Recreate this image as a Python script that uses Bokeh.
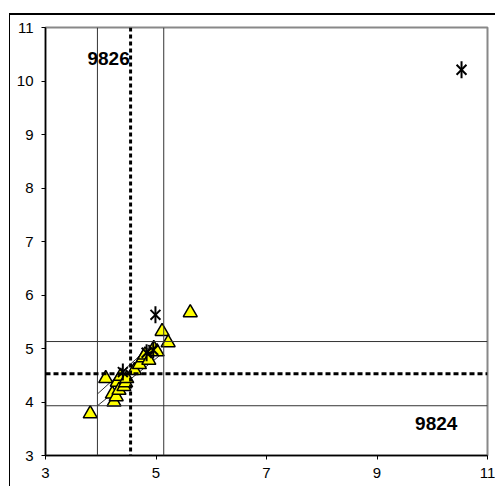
import math
from bokeh.plotting import figure
from bokeh.models import Span, FixedTicker, Label
from bokeh.embed import file_html
from bokeh.resources import INLINE

# data
tri_x = [3.81, 4.09, 4.21, 4.24, 4.28, 4.30, 4.33, 4.36, 4.42, 4.45, 4.47, 4.61, 4.70, 4.77, 4.80, 4.87, 4.96, 5.02, 5.11, 5.22, 5.62]
tri_y = [3.78, 4.44, 4.15, 4.00, 4.10, 4.37, 4.22, 4.48, 4.29, 4.36, 4.44, 4.59, 4.70, 4.83, 4.88, 4.78, 5.00, 4.94, 5.32, 5.11, 5.67]
star_x = [4.40, 4.83, 4.95, 4.99, 10.53]
star_y = [4.56, 4.92, 4.97, 5.63, 10.21]

x_ticks = [3, 5, 7, 9, 11]
y_ticks = [3, 4, 5, 6, 7, 8, 9, 10, 11]

x_limits = [3.94, 5.14]
y_limits = [3.93, 5.13]
x_mean = 4.54
y_mean = 4.53

band_lower_x = [3.94, 5.13]
band_lower_y = [3.93, 4.92]
band_upper_x = [3.94, 4.98]
band_upper_y = [4.15, 5.12]

label_a = "9826"
label_a_pos = (3.76, 10.29)
label_b = "9824"
label_b_pos = (9.69, 3.47)

p = figure(width=486, height=473, x_range=(3, 11), y_range=(3, 11),
           output_backend="svg", toolbar_location=None,
           min_border_left=35, min_border_top=12, min_border_right=9, min_border_bottom=33)
p.styles = {"border-left": "1px solid #000", "border-top": "2px solid #000"}
p.margin = (13, 0, 0, 9)

p.xgrid.visible = False
p.ygrid.visible = False
p.outline_line_color = "#888888"
p.outline_line_width = 2
p.background_fill_color = "white"
p.border_fill_color = "white"

for ax in (p.xaxis[0], p.yaxis[0]):
    ax.axis_line_color = "black"
    ax.axis_line_width = 1.5
    ax.major_tick_line_color = "black"
    ax.major_tick_out = 4
    ax.major_tick_in = 0
    ax.minor_tick_line_color = None
    ax.major_label_text_font = "Liberation Sans"
    ax.major_label_text_font_size = "15px"
    ax.major_label_text_color = "black"
    ax.major_label_standoff = 8
p.xaxis.ticker = FixedTicker(ticks=x_ticks)
p.yaxis.ticker = FixedTicker(ticks=y_ticks)

for v in x_limits:
    p.add_layout(Span(location=v, dimension="height", line_color="#333333", line_width=1))
for v in y_limits:
    p.add_layout(Span(location=v, dimension="width", line_color="#333333", line_width=1))
p.add_layout(Span(location=x_mean, dimension="height", line_color="black", line_width=3, line_dash="4 3"))
p.add_layout(Span(location=y_mean, dimension="width", line_color="black", line_width=3, line_dash="5 3"))

p.line(band_lower_x, band_lower_y, line_color="#333333", line_width=1)
p.line(band_upper_x, band_upper_y, line_color="#333333", line_width=1)

p.scatter(tri_x, tri_y, marker="triangle", size=14, fill_color="#ffff00",
          line_color="black", line_width=1.5)
p.scatter(star_x, star_y, marker="x", size=14, line_color="black", line_width=2)
p.scatter(star_x, star_y, marker="dash", angle=math.pi / 2, size=17, line_color="black", line_width=2)

for txt, pos in ((label_a, label_a_pos), (label_b, label_b_pos)):
    p.add_layout(Label(x=pos[0], y=pos[1], text=txt, text_font="Liberation Sans",
                       text_font_size="19px", text_font_style="bold", text_color="black"))

open("out.html", "w").write(file_html(p, INLINE))
